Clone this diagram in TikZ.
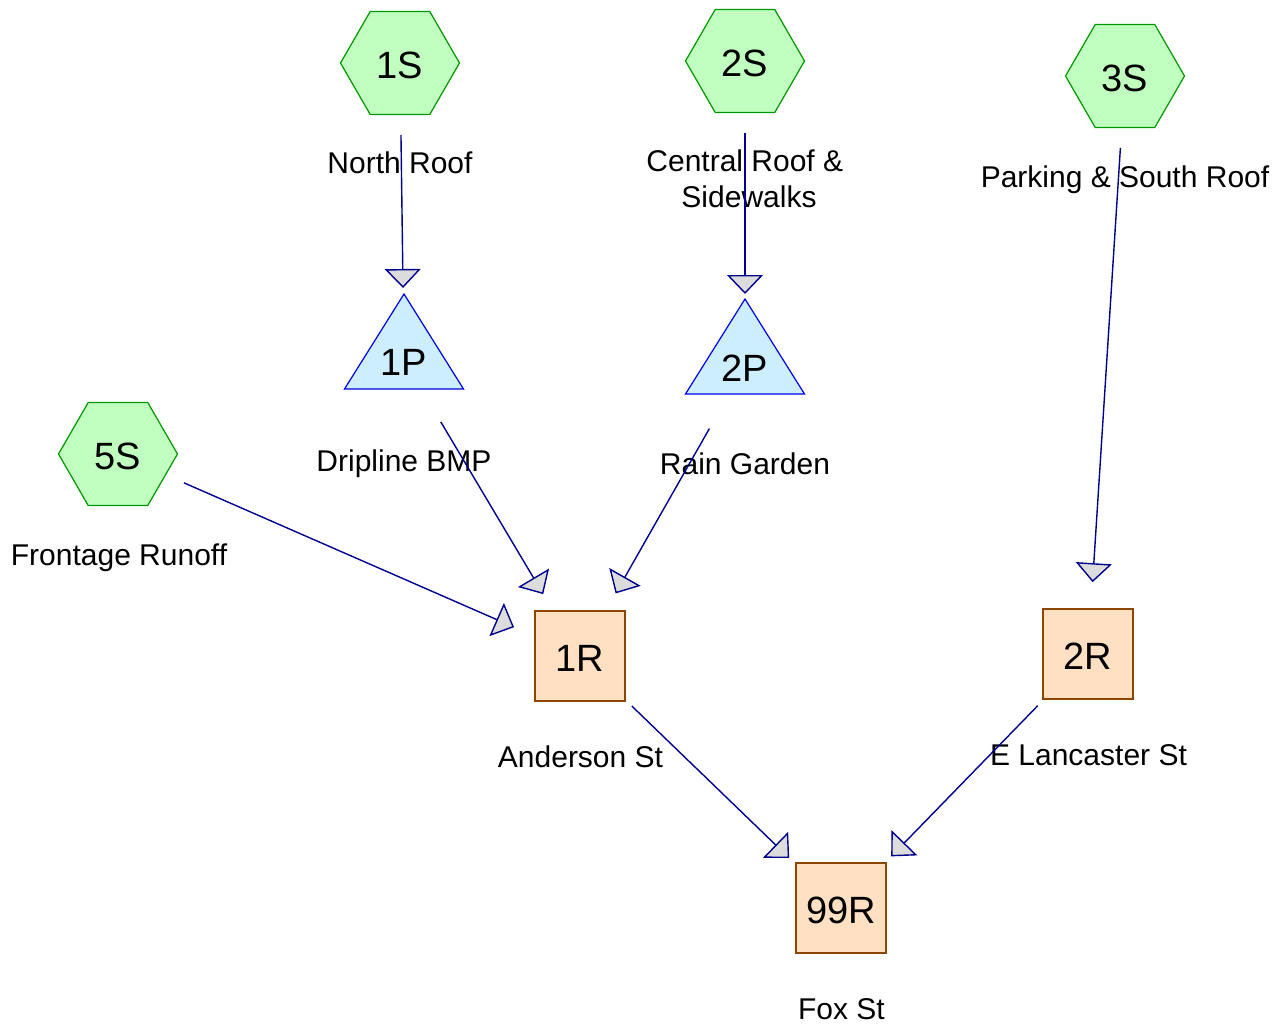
\documentclass[tikz,border=0pt]{standalone}
\usepackage{fontspec}
\setmainfont{Liberation Sans}
\usetikzlibrary{shapes.geometric,arrows.meta}
\definecolor{hexfill}{RGB}{192,255,192}
\definecolor{hexdraw}{RGB}{0,150,0}
\definecolor{pfill}{RGB}{204,238,255}
\definecolor{pdraw}{RGB}{0,0,230}
\definecolor{rfill}{RGB}{255,224,194}
\definecolor{rdraw}{RGB}{140,70,0}
\definecolor{flowc}{RGB}{0,0,140}
\definecolor{tipfill}{RGB}{220,220,220}
\begin{document}
\begin{tikzpicture}[x=1pt,y=-1pt,
  nodetext/.style={font=\fontsize{38}{40}\selectfont, text height=30pt, text depth=0pt},
  subcat/.style={regular polygon, regular polygon sides=6, minimum size=119pt, inner sep=0pt,
    fill=hexfill, draw=hexdraw, line width=1.2pt, nodetext},
  reach/.style={rectangle, minimum size=90pt, inner sep=0pt, fill=rfill, draw=rdraw,
    line width=1.5pt, nodetext},
  pondlbl/.style={inner sep=0pt, nodetext},
  pondtri/.style={fill=pfill, draw=pdraw, line width=1.2pt, line join=miter},
  lbl/.style={anchor=base, inner sep=0pt, font=\fontsize{30}{36}\selectfont, align=center},
  flow/.style={draw=flowc, line width=1.4pt, shorten <=72pt, shorten >=72pt,
    -{Triangle[width=36pt,length=19pt,fill=tipfill]}},
]
\useasboundingbox (0,0) rectangle (1275,1036);

% subcatchments
\node[subcat] (n1S) at (400,63) {1S};
\node[subcat] (n2S) at (745,61) {2S};
\node[subcat] (n3S) at (1125,76) {3S};
\node[subcat] (n5S) at (118,454) {5S};

% ponds
\coordinate (c1P) at (404,360);
\draw[pondtri] (c1P) ++(0,-66) -- ++(59.5,95) -- ++(-119,0) -- cycle;
\node[pondlbl] (n1P) at (c1P) {1P};
\coordinate (c2P) at (745,366);
\draw[pondtri] (c2P) ++(0,-67) -- ++(59.5,95) -- ++(-119,0) -- cycle;
\node[pondlbl] (n2P) at (c2P) {2P};

% reaches
\node[reach] (n1R) at (580,656) {1R};
\node[reach] (n2R) at (1088,654) {2R};
\node[reach] (n99R) at (841,908) {99R};

% labels
\node[lbl] (l1S) at (400,173) {North Roof};
\node[lbl, anchor=center] (l2S) at (749,179) {Central Roof \&\kern0.28em\\Sidewalks};
\node[lbl] (l3S) at (1125,187) {Parking \& South Roof};
\node[lbl] (l5S) at (119,565) {Frontage Runoff};
\node[lbl] (l1P) at (404,471) {Dripline BMP};
\node[lbl] (l2P) at (745,474) {Rain Garden};
\node[lbl] (l1R) at (580.5,767) {Anderson St};
\node[lbl] (l2R) at (1088.5,765) {E Lancaster St};
\node[lbl] (l99R) at (841.5,1019) {Fox St};

% flows
\draw[flow] (n1S.center) -- (n1P.center);
\draw[flow] (n2S.center) -- (n2P.center);
\draw[flow] (n3S.center) -- (n2R.center);
\draw[flow] (n5S.center) -- (n1R.center);
\draw[flow] (n1P.center) -- (n1R.center);
\draw[flow] (n2P.center) -- (n1R.center);
\draw[flow] (n1R.center) -- (n99R.center);
\draw[flow] (n2R.center) -- (n99R.center);
\end{tikzpicture}
\end{document}
